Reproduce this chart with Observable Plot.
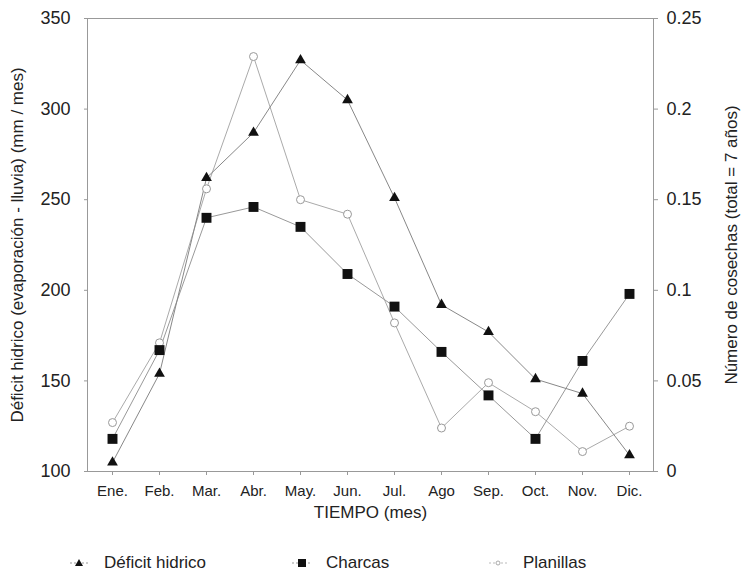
<!DOCTYPE html>
<html>
<head>
<meta charset="utf-8">
<script src="https://cdn.jsdelivr.net/npm/d3@7"></script>
<script src="https://cdn.jsdelivr.net/npm/@observablehq/plot@0.6"></script>
<style>
  body { margin: 0; background: #fff; font-family: "Liberation Sans", Arial, sans-serif; }
  #chart svg { display: block; }
  .legend { position: relative; height: 34px; width: 743px; font-size: 17px; color: #222; }
  .legend .item { position: absolute; top: 13px; display: flex; align-items: center; }
  .legend .item span { margin-left: 14px; }
</style>
</head>
<body>
<div id="chart"></div>
<div class="legend" id="legend"></div>
<script>
const months = ["Ene.", "Feb.", "Mar.", "Abr.", "May.", "Jun.", "Jul.", "Ago", "Sep.", "Oct.", "Nov.", "Dic."];
// Déficit hídrico (mm / mes) — left axis
const deficit = [105, 154, 262, 287, 327, 305, 251, 192, 177, 151, 143, 109];
// Número de cosechas — right axis
const charcas = [0.018, 0.067, 0.140, 0.146, 0.135, 0.109, 0.091, 0.066, 0.042, 0.018, 0.061, 0.098];
const planillas = [0.027, 0.071, 0.156, 0.229, 0.150, 0.142, 0.082, 0.024, 0.049, 0.033, 0.011, 0.025];
const leftTicks = [100, 150, 200, 250, 300, 350];
const rightTicks = [0, 0.05, 0.1, 0.15, 0.2, 0.25];
const seriesNames = ["Déficit hidrico", "Charcas", "Planillas"];

// right axis 0..0.25 maps onto left 100..350
const toLeft = r => 100 + r * 1000;

const dDef = months.map((m, i) => ({month: m, v: deficit[i]}));
const dCha = months.map((m, i) => ({month: m, v: toLeft(charcas[i])}));
const dPla = months.map((m, i) => ({month: m, v: toLeft(planillas[i])}));

const font = "Liberation Sans, Arial, sans-serif";

const chart = Plot.plot({
  width: 743,
  height: 540,
  marginTop: 18,
  marginBottom: 69,
  marginLeft: 87,
  marginRight: 90,
  style: {fontFamily: font, background: "#fff", color: "#222"},
  x: {type: "point", domain: months, padding: 0.52},
  y: {domain: [100, 350]},
  marks: [
    Plot.frame({stroke: "#999"}),
    Plot.axisX({tickSize: 4, tickPadding: 10, fontSize: 15, stroke: "#999", color: "#222", label: null}),
    Plot.axisY({ticks: leftTicks, tickSize: 3, tickPadding: 14, fontSize: 18, stroke: "#999", color: "#222", label: null}),
    Plot.axisY({anchor: "right", ticks: rightTicks.map(toLeft), tickFormat: d => String(+((d - 100) / 1000).toFixed(2)),
      tickSize: 4, tickPadding: 9, fontSize: 18, stroke: "#999", color: "#222", label: null}),
    Plot.text(["Déficit hidrico (evaporación - lluvia) (mm / mes)"], {frameAnchor: "left", textAnchor: "middle", dx: -70, rotate: -90, fontSize: 17, fill: "#222"}),
    Plot.text(["Número de cosechas (total = 7 años)"], {frameAnchor: "right", textAnchor: "middle", dx: 78, rotate: -90, fontSize: 17, fill: "#222"}),
    Plot.text(["TIEMPO (mes)"], {frameAnchor: "bottom", dy: 46, fontSize: 17, fill: "#222"}),
    Plot.line(dPla, {x: "month", y: "v", stroke: "#aaa", strokeWidth: 1}),
    Plot.line(dCha, {x: "month", y: "v", stroke: "#999", strokeWidth: 1}),
    Plot.line(dDef, {x: "month", y: "v", stroke: "#888", strokeWidth: 1}),
    Plot.dot(dPla, {x: "month", y: "v", symbol: "circle", r: 4, stroke: "#999", fill: "#fff", strokeWidth: 1}),
    Plot.dot(dCha, {x: "month", y: "v", symbol: "square", r: 5.6, fill: "#111", stroke: "none"}),
    Plot.dot(dDef, {x: "month", y: "v", symbol: "triangle", r: 4, fill: "#111", stroke: "none"})
  ]
});
document.getElementById("chart").appendChild(chart);

// legend
const legendItems = [
  {name: seriesNames[0], left: 68, sym: "tri"},
  {name: seriesNames[1], left: 290, sym: "sq"},
  {name: seriesNames[2], left: 487, sym: "circ"}
];
const legend = document.getElementById("legend");
for (const it of legendItems) {
  const div = document.createElement("div");
  div.className = "item";
  div.style.left = it.left + "px";
  let shape = "";
  if (it.sym === "tri") shape = '<line x1="2" y1="9" x2="20" y2="9" stroke="#999" stroke-dasharray="2,2"/><path d="M7,12 L11,5 L15,12 Z" fill="#111"/>';
  if (it.sym === "sq") shape = '<line x1="2" y1="9" x2="20" y2="9" stroke="#999" stroke-dasharray="2,2"/><rect x="8" y="5" width="8" height="8" fill="#111"/>';
  if (it.sym === "circ") shape = '<line x1="2" y1="9" x2="20" y2="9" stroke="#bbb" stroke-dasharray="2,2"/><circle cx="11" cy="9" r="2" fill="#fff" stroke="#aaa"/>';
  div.innerHTML = '<svg width="22" height="18">' + shape + '</svg><span>' + it.name + '</span>';
  legend.appendChild(div);
}
</script>
</body>
</html>
